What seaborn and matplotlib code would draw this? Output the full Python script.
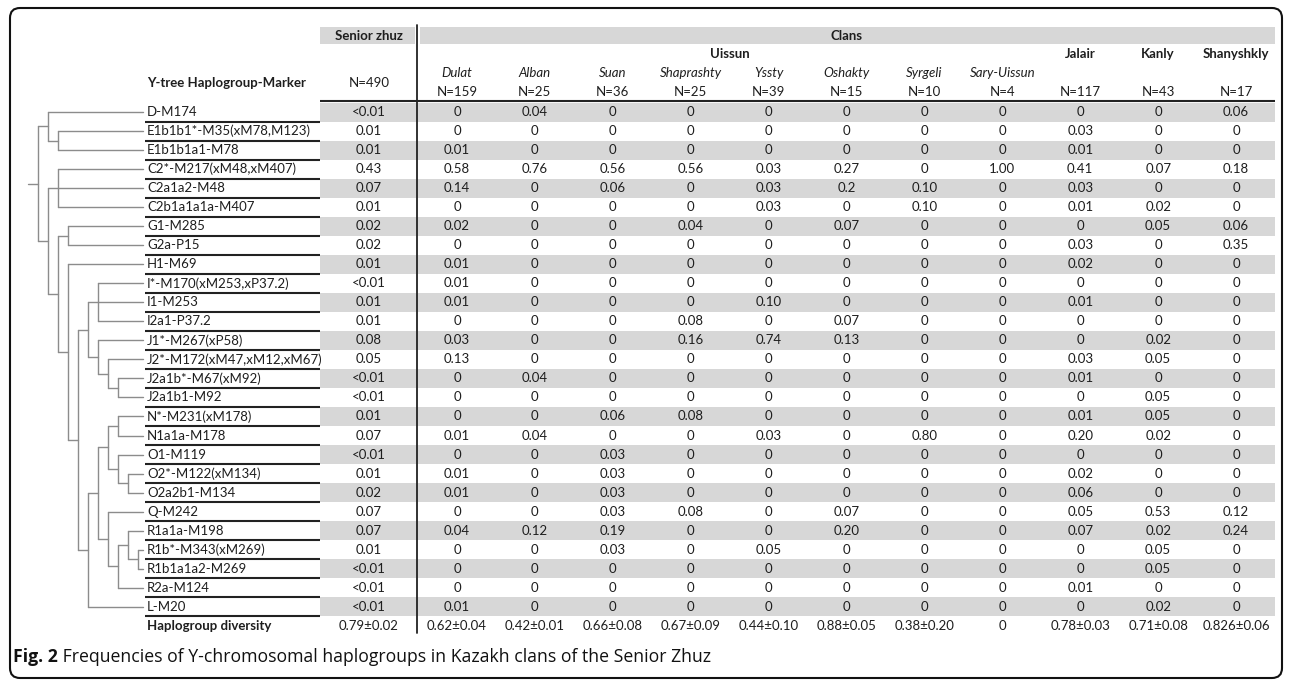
# Frecuencias de haplogrupos Y en clanes kazajos (Senior Zhuz)

import numpy as np
import pandas as pd
import matplotlib
matplotlib.use("Agg")
import matplotlib.pyplot as plt
from matplotlib.colors import ListedColormap
from matplotlib.patches import FancyBboxPatch, Rectangle
from matplotlib.transforms import blended_transform_factory
import seaborn as sns

# Datos
markers = ["D-M174", "E1b1b1*-M35(xM78,M123)", "E1b1b1a1-M78", "C2*-M217(xM48,xM407)",
           "C2a1a2-M48", "C2b1a1a1a-M407", "G1-M285", "G2a-P15", "H1-M69",
           "I*-M170(xM253,xP37.2)", "I1-M253", "I2a1-P37.2", "J1*-M267(xP58)",
           "J2*-M172(xM47,xM12,xM67)", "J2a1b*-M67(xM92)", "J2a1b1-M92", "N*-M231(xM178)",
           "N1a1a-M178", "O1-M119", "O2*-M122(xM134)", "O2a2b1-M134", "Q-M242",
           "R1a1a-M198", "R1b*-M343(xM269)", "R1b1a1a2-M269", "R2a-M124", "L-M20"]

senior = ["<0.01", "0.01", "0.01", "0.43", "0.07", "0.01", "0.02", "0.02", "0.01",
          "<0.01", "0.01", "0.01", "0.08", "0.05", "<0.01", "<0.01", "0.01", "0.07",
          "<0.01", "0.01", "0.02", "0.07", "0.07", "0.01", "<0.01", "<0.01", "<0.01"]
senior_n = 490
senior_div = "0.79±0.02"

clans = ["Dulat", "Alban", "Suan", "Shaprashty", "Yssty", "Oshakty", "Syrgeli",
         "Sary-Uissun", "Jalair", "Kanly", "Shanyshkly"]
n_uissun = 8  # los 8 primeros son Uissun
clan_n = [159, 25, 36, 25, 39, 15, 10, 4, 117, 43, 17]

dulat = ["0", "0", "0.01", "0.58", "0.14", "0", "0.02", "0", "0.01", "0.01", "0.01", "0", "0.03",
         "0.13", "0", "0", "0", "0.01", "0", "0.01", "0.01", "0", "0.04", "0", "0", "0", "0.01"]
alban = ["0.04", "0", "0", "0.76", "0", "0", "0", "0", "0", "0", "0", "0", "0",
         "0", "0.04", "0", "0", "0.04", "0", "0", "0", "0", "0.12", "0", "0", "0", "0"]
suan = ["0", "0", "0", "0.56", "0.06", "0", "0", "0", "0", "0", "0", "0", "0",
        "0", "0", "0", "0.06", "0", "0.03", "0.03", "0.03", "0.03", "0.19", "0.03", "0", "0", "0"]
shaprashty = ["0", "0", "0", "0.56", "0", "0", "0.04", "0", "0", "0", "0", "0.08", "0.16",
              "0", "0", "0", "0.08", "0", "0", "0", "0", "0.08", "0", "0", "0", "0", "0"]
yssty = ["0", "0", "0", "0.03", "0.03", "0.03", "0", "0", "0", "0", "0.10", "0", "0.74",
         "0", "0", "0", "0", "0.03", "0", "0", "0", "0", "0", "0.05", "0", "0", "0"]
oshakty = ["0", "0", "0", "0.27", "0.2", "0", "0.07", "0", "0", "0", "0", "0.07", "0.13",
           "0", "0", "0", "0", "0", "0", "0", "0", "0.07", "0.20", "0", "0", "0", "0"]
syrgeli = ["0", "0", "0", "0", "0.10", "0.10", "0", "0", "0", "0", "0", "0", "0",
           "0", "0", "0", "0", "0.80", "0", "0", "0", "0", "0", "0", "0", "0", "0"]
sary_uissun = ["0", "0", "0", "1.00", "0", "0", "0", "0", "0", "0", "0", "0", "0",
               "0", "0", "0", "0", "0", "0", "0", "0", "0", "0", "0", "0", "0", "0"]
jalair = ["0", "0.03", "0.01", "0.41", "0.03", "0.01", "0", "0.03", "0.02", "0", "0.01", "0", "0",
          "0.03", "0.01", "0", "0.01", "0.20", "0", "0.02", "0.06", "0.05", "0.07", "0", "0", "0.01", "0"]
kanly = ["0", "0", "0", "0.07", "0", "0.02", "0.05", "0", "0", "0", "0", "0", "0.02",
         "0.05", "0", "0.05", "0.05", "0.02", "0", "0", "0", "0.53", "0.02", "0.05", "0.05", "0", "0.02"]
shanyshkly = ["0.06", "0", "0", "0.18", "0", "0", "0.06", "0.35", "0", "0", "0", "0", "0",
              "0", "0", "0", "0", "0", "0", "0", "0", "0.12", "0.24", "0", "0", "0", "0"]
diversity = ["0.62±0.04", "0.42±0.01", "0.66±0.08", "0.67±0.09", "0.44±0.10", "0.88±0.05",
             "0.38±0.20", "0", "0.78±0.03", "0.71±0.08", "0.826±0.06"]

# Topologia del arbol (indices de fila = hojas)
tree = [[0, [1, 2]],
        [[3, 4, 5],
         [[6, 7],
          [8,
           [[[9, 10, 11], [12, [13, [14, 15]]]],
            [[[[16, 17], [18, [19, 20]]],
              [21, [[22, [23, 24]], 25]]],
             26]]]]]]

caption_bold = "Fig. 2"
caption = " Frequencies of Y-chromosomal haplogroups in Kazakh clans of the Senior Zhuz"

# Tabla
clan_cols = [dulat, alban, suan, shaprashty, yssty, oshakty, syrgeli, sary_uissun,
             jalair, kanly, shanyshkly]
df_clans = pd.DataFrame(dict(zip(clans, clan_cols)), index=markers)
df_clans.loc["Haplogroup diversity"] = diversity
df_senior = pd.DataFrame({"Senior zhuz": senior + [senior_div]},
                         index=markers + ["Haplogroup diversity"])

n_rows = len(df_clans)
stripe = np.array([1 if (i % 2 == 0 and i < len(markers)) else 0 for i in range(n_rows)])

# Estilo
sns.set_theme(style="white")
plt.rcParams["font.family"] = ["Lato", "DejaVu Sans"]
TXT = "#1e1e1e"
GRAY = "#d7d7d7"
FS = 9.5
cmap = ListedColormap(["white", GRAY])

W, H = 1292, 681
top, rh = 102.5, 19.03
bottom = top + rh * n_rows
x_lab, x_sen, x_div, x_end = 145, 320, 418, 1275

fig = plt.figure(figsize=(W / 100, H / 100), dpi=100)


def px_axes(x0, y0, x1, y1):
    return fig.add_axes([x0 / W, 1 - y1 / H, (x1 - x0) / W, (y1 - y0) / H])


ax_s = px_axes(x_sen, top, x_div, bottom)
ax_c = px_axes(x_div, top, x_end, bottom)

kws = dict(fontsize=FS, color=TXT)
sns.heatmap(pd.DataFrame(np.repeat(stripe[:, None], 1, axis=1)), ax=ax_s, cmap=cmap,
            vmin=0, vmax=1, annot=df_senior.values, fmt="", cbar=False,
            xticklabels=False, yticklabels=False, annot_kws=kws)
sns.heatmap(pd.DataFrame(np.repeat(stripe[:, None], len(clans), axis=1)), ax=ax_c, cmap=cmap,
            vmin=0, vmax=1, annot=df_clans.values, fmt="", cbar=False,
            xticklabels=False, yticklabels=False, annot_kws=kws)
for a in (ax_s, ax_c):
    a.set_xlabel("")
    a.set_ylabel("")

# Capa superior en pixeles
ov = fig.add_axes([0, 0, 1, 1])
ov.set_xlim(0, W)
ov.set_ylim(H, 0)
ov.axis("off")
ov.patch.set_alpha(0)

# Marco redondeado
ov.add_patch(FancyBboxPatch((10, 8), 1272, 670, boxstyle="round,pad=0,rounding_size=10",
                            fill=False, ec="#111111", lw=1.5))

# Cabeceras grises
ov.add_patch(Rectangle((x_sen, 27), x_div - 3 - x_sen, 17, color=GRAY, lw=0))
ov.add_patch(Rectangle((x_div + 2, 27), x_end - x_div - 2, 17, color=GRAY, lw=0))

tr_s = blended_transform_factory(ax_s.transData, ov.transData)
tr_c = blended_transform_factory(ax_c.transData, ov.transData)

ov.text(0.5, 35.5, "Senior zhuz", transform=tr_s, ha="center", va="center",
        fontsize=FS, fontweight="bold", color=TXT)
ov.text(0.5, 83, f"N={senior_n}", transform=tr_s, ha="center", va="center", fontsize=FS, color=TXT)
ov.text(len(clans) / 2, 35.5, "Clans", transform=tr_c, ha="center", va="center",
        fontsize=FS, fontweight="bold", color=TXT)
ov.text(n_uissun / 2, 54.5, "Uissun", transform=tr_c, ha="center", va="center",
        fontsize=FS, fontweight="bold", color=TXT)

for i, (name, n) in enumerate(zip(clans, clan_n)):
    if i < n_uissun:
        ov.text(i + 0.5, 73, name, transform=tr_c, ha="center", va="center",
                fontsize=FS, fontstyle="italic", color=TXT)
    else:
        ov.text(i + 0.5, 54.5, name, transform=tr_c, ha="center", va="center",
                fontsize=FS, fontweight="bold", color=TXT)
    ov.text(i + 0.5, 92, f"N={n}", transform=tr_c, ha="center", va="center", fontsize=FS, color=TXT)

ov.text(x_lab + 2, 83, "Y-tree Haplogroup-Marker", ha="left", va="center",
        fontsize=FS, fontweight="bold", color=TXT)

# Lineas de la tabla
ov.plot([x_sen, x_end], [101, 101], color="#222222", lw=1.5, solid_capstyle="butt")
ov.plot([x_div - 1, x_div - 1], [25, bottom - 2], color="#222222", lw=1.3)


def row_y(i):
    return top + rh * (i + 0.5)


for i, m in enumerate(df_clans.index):
    bold = i == len(markers)
    ov.text(x_lab + 2, row_y(i), m, ha="left", va="center", fontsize=FS,
            fontweight="bold" if bold else "normal", color=TXT)
    if not bold:
        yb = top + rh * (i + 1)
        ov.plot([x_lab, x_sen], [yb, yb], color="#222222", lw=1.5, solid_capstyle="butt")

# Arbol (cladograma)
TREE = "#8c8c8c"


def draw_node(node, depth):
    x = 38 + 10 * depth
    ys = []
    for child in node:
        if isinstance(child, int):
            cy, cx = row_y(child), x_lab - 2
        else:
            cy, cx = draw_node(child, depth + 1)
        ov.plot([x, cx], [cy, cy], color=TREE, lw=1)
        ys.append(cy)
    ov.plot([x, x], [min(ys), max(ys)], color=TREE, lw=1)
    return (min(ys) + max(ys)) / 2, x


ry, rx = draw_node(tree, 0)
ov.plot([28, rx], [ry, ry], color=TREE, lw=1)

# Pie de figura
t1 = ov.text(13, 657, caption_bold, ha="left", va="center", fontsize=12.7,
             fontweight="bold", family=["Open Sans", "DejaVu Sans"], color="#111111")
ov.annotate(caption, xy=(1, 0), xycoords=t1, ha="left", va="bottom", fontsize=12.7,
            family=["Open Sans", "DejaVu Sans"], color="#111111")

fig.savefig("out.png", dpi=100)
